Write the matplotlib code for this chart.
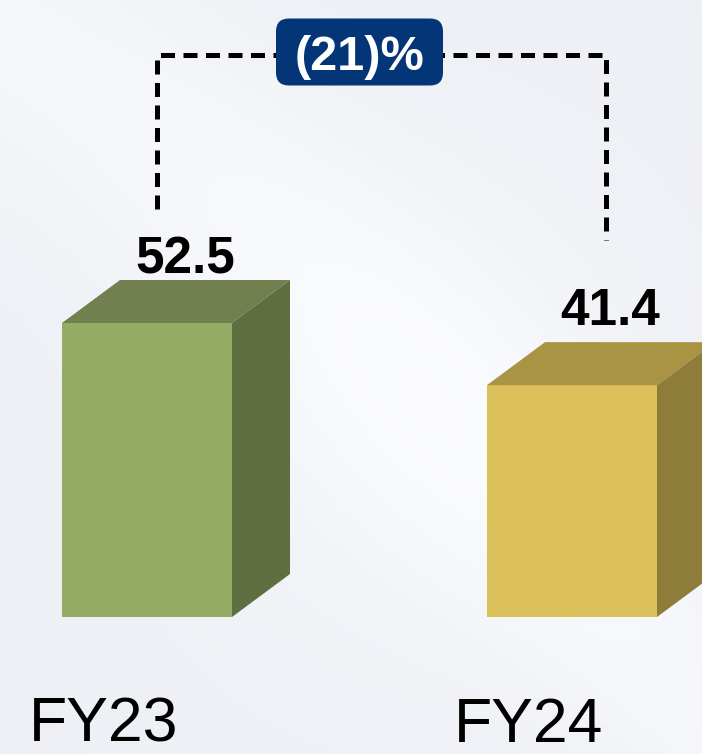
import numpy as np
import matplotlib.pyplot as plt
from matplotlib.patches import FancyBboxPatch

# data
categories = ['FY23', 'FY24']
values = [52.5, 41.4]
change_label = '(21)%'

front_colors = ['#93ab65', '#dcc05a']
top_colors = ['#71804e', '#a99443']
side_colors = ['#5e6e40', '#8d7d38']

W, H = 702, 754
base_px = 617          # baseline, pixels from top
px_per_unit = 5.6      # vertical scale
px_per_cat = 425       # distance between bars
first_px = 147         # centre of first bar front

fig = plt.figure(figsize=(W / 100, H / 100), dpi=100)

# soft background
bg = fig.add_axes([0, 0, 1, 1])
yy, xx = np.mgrid[0:1:200j, 0:1:200j]
swoosh = np.exp(-((yy - (0.05 + 0.9 * xx ** 1.3)) ** 2) / 0.06)
light = 0.55 * swoosh + 0.45 * np.exp(-((xx - 0.6) ** 2 + (yy - 0.55) ** 2) / 0.15)
light = np.clip(light, 0, 1)
base = np.array([0.93, 0.94, 0.96])
top = np.array([0.985, 0.988, 0.995])
img = base[None, None, :] * (1 - light[..., None]) + top[None, None, :] * light[..., None]
bg.imshow(img, extent=[0, 1, 0, 1], aspect='auto', interpolation='bicubic')
bg.axis('off')

ax = fig.add_axes([0, 0, 1, 1])
ax.patch.set_alpha(0)
ax.set_xlim(-first_px / px_per_cat, (W - first_px) / px_per_cat)
ax.set_ylim(-(H - base_px) / px_per_unit, base_px / px_per_unit)
ax.axis('off')

dx_px = lambda p: p / px_per_cat
dy_px = lambda p: p / px_per_unit

width = dx_px(170)
depth_x = dx_px(58)
depth_y = dy_px(43)
label_gaps = [7, 17]   # px between top face and value label

x = np.arange(len(categories))
ax.bar(x, values, width=width, color=front_colors, zorder=3)
for i, v in enumerate(values):
    x0 = x[i] - width / 2
    x1 = x[i] + width / 2
    ax.fill([x0, x0 + depth_x, x1 + depth_x, x1], [v, v + depth_y, v + depth_y, v],
            color=top_colors[i], zorder=3, lw=0)
    ax.fill([x1, x1 + depth_x, x1 + depth_x, x1], [0, depth_y, v + depth_y, v],
            color=side_colors[i], zorder=3, lw=0)
    ax.annotate(f'{v:.1f}', xy=(x[i] + dx_px(38), v + depth_y), xytext=(0, label_gaps[i] * 0.72),
                textcoords='offset points', ha='center', va='baseline',
                fontsize=37, fontweight='bold', family='Liberation Sans', color='black')
    ax.annotate(categories[i], xy=(x[i] - dx_px(43), 0), xytext=(0, -125 * 0.72),
                textcoords='offset points', ha='center', va='baseline',
                fontsize=45, family='Liberation Sans', color='black')

# dashed bracket
bracket_y = max(values) + depth_y + dy_px(225)
end_gaps = [71, 102]
end_x = [x[0] + dx_px(10), x[1] + dx_px(34)]
end_y = [values[i] + depth_y + dy_px(end_gaps[i]) for i in range(2)]
ax.plot([end_x[0], end_x[0], end_x[1], end_x[1]],
        [end_y[0], bracket_y, bracket_y, end_y[1]],
        color='black', lw=3.6, linestyle=(0, (2.8, 1.7)), zorder=4,
        solid_joinstyle='miter')

# change badge
mid = x.mean()
bw, bh = dx_px(167), dy_px(67)
aspect = (1 / px_per_unit) / (1 / px_per_cat)
badge = FancyBboxPatch((mid - bw / 2, bracket_y - bh / 2 + dy_px(3)), bw, bh,
                       boxstyle=f'round,pad=0,rounding_size={dx_px(13)}',
                       mutation_aspect=aspect, fc='#043576', ec='none', zorder=5)
ax.add_patch(badge)
ax.text(mid, bracket_y + dy_px(3), change_label, ha='center', va='center_baseline',
        fontsize=35, fontweight='bold', family='Liberation Sans', color='white', zorder=6)

fig.savefig('out.png', dpi=100)
